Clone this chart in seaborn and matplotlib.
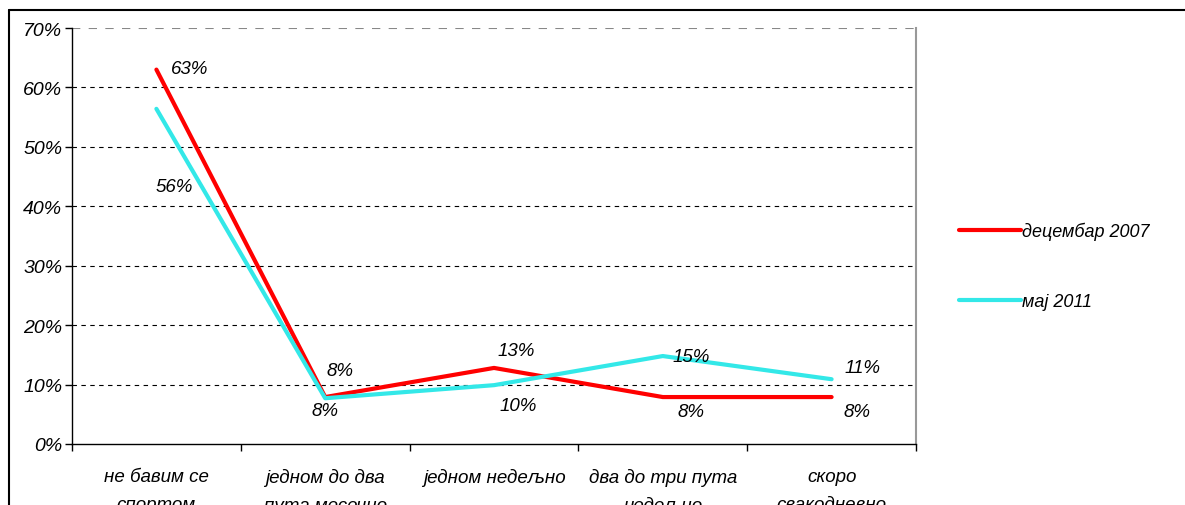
import matplotlib
matplotlib.use("Agg")
import matplotlib.pyplot as plt
import matplotlib.lines as mlines
import seaborn as sns
import pandas as pd

categories = ["не бавим се\nспортом", "једном до два\nпута месечно", "једном недељно",
              "два до три пута\nнедељно", "скоро\nсвакодневно"]
series_names = ["децембар 2007", "мај 2011"]
dec2007 = [0.63, 0.079, 0.128, 0.079, 0.079]
maj2011 = [0.564, 0.077, 0.099, 0.148, 0.109]
yticks = [0, 0.1, 0.2, 0.3, 0.4, 0.5, 0.6, 0.7]

df = pd.DataFrame({
    "pos": list(range(len(categories))) * 2,
    "value": dec2007 + maj2011,
    "series": [series_names[0]] * len(dec2007) + [series_names[1]] * len(maj2011),
})

sns.set_theme(style="white")
plt.rcParams["font.family"] = ["Liberation Sans", "DejaVu Sans"]
plt.rcParams["font.style"] = "italic"
plt.rcParams["text.color"] = "black"
plt.rcParams["xtick.color"] = "black"
plt.rcParams["ytick.color"] = "black"

fig = plt.figure(figsize=(11.85, 5.06), dpi=100)
ax = fig.add_axes([72 / 1185, 1 - 445 / 506, (916 - 72) / 1185, (445 - 29) / 506])

palette = {series_names[0]: "#FF0000", series_names[1]: "#33E8E8"}
sns.lineplot(data=df, x="pos", y="value", hue="series", palette=palette,
             linewidth=3, ax=ax, legend=False, sort=False)

ax.set_xlim(-0.5, len(categories) - 0.5)
ax.set_ylim(0, 0.7)
ax.set_yticks(yticks)
ax.set_yticklabels([f"{int(round(t * 100))}%" for t in yticks], fontsize=14, style="italic")
ax.set_xticks([i - 0.5 for i in range(len(categories) + 1)])
ax.set_xticklabels([])
ax.set_xticks(range(len(categories)), minor=True)
ax.set_xticklabels(categories, minor=True, fontsize=13.5, style="italic", va="top", linespacing=1.9)
ax.tick_params(axis="x", which="minor", length=0, pad=17)
ax.tick_params(axis="x", which="major", length=5, direction="out", color="black", width=1, bottom=True)
ax.tick_params(axis="y", length=5, direction="out", color="black", width=1, left=True, pad=2)
ax.set_xlabel("")
ax.set_ylabel("")

for t in yticks[1:-1]:
    ax.axhline(t, color="black", linestyle=(0, (4, 4)), linewidth=0.8, zorder=0)
ax.axhline(0.7, color="#888888", linestyle=(0, (4, 4)), linewidth=1.5, zorder=0)

ax.spines["top"].set_visible(False)
ax.spines["right"].set_color("#999999")
ax.spines["right"].set_linewidth(1.5)
ax.spines["left"].set_color("black")
ax.spines["bottom"].set_color("black")
ax.spines["left"].set_linewidth(1)
ax.spines["bottom"].set_linewidth(1)

# data labels (pixel offsets from each point)
red_off = [(33, 1), (15, 27), (22, 17), (28, -14), (25, -14)]
cyan_off = [(18, -78), (0, -12), (24, -20), (28, 0), (31, 12)]
for vals, offs in [(dec2007, red_off), (maj2011, cyan_off)]:
    for i, (v, o) in enumerate(zip(vals, offs)):
        ax.annotate(f"{round(v * 100):.0f}%", (i, v), xytext=o, textcoords="offset pixels",
                    ha="center", va="center", fontsize=13.5, style="italic", color="black")

handles = [mlines.Line2D([], [], color=palette[n], linewidth=3) for n in series_names]
fig.legend(handles, series_names, loc="center left", bbox_to_anchor=(943 / 1185, 1 - 267 / 506),
           frameon=False, handlelength=3.4, handletextpad=0.1, labelspacing=2.95,
           prop={"size": 13, "style": "italic"})

# outer chart frame (top and left edges visible)
fig.add_artist(mlines.Line2D([9 / 1185, 1], [1 - 11 / 506, 1 - 11 / 506], color="black",
                             linewidth=1.5, transform=fig.transFigure))
fig.add_artist(mlines.Line2D([9 / 1185, 9 / 1185], [0, 1 - 11 / 506], color="black",
                             linewidth=1.5, transform=fig.transFigure))

fig.savefig("out.png", dpi=100, facecolor="white")
